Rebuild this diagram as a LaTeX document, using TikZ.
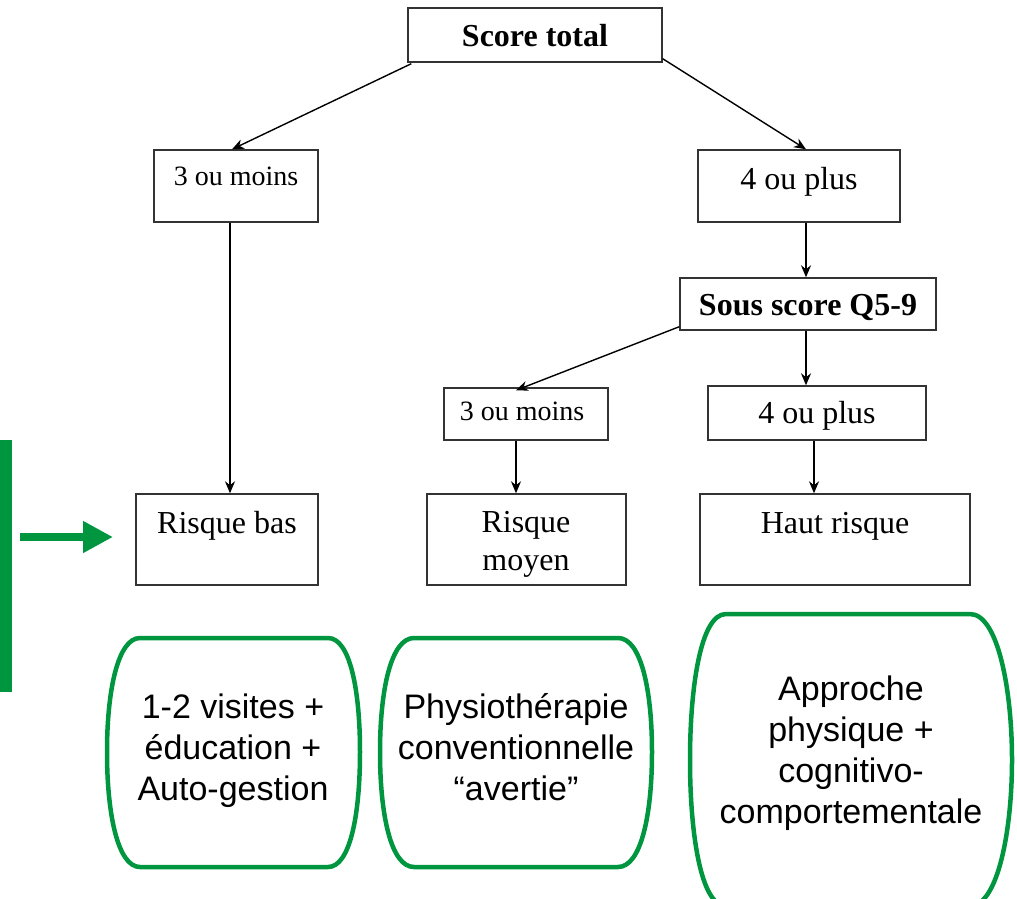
\documentclass[tikz,border=0pt]{standalone}
\usepackage{fontspec}
\setmainfont{Liberation Serif}
\newfontfamily\arialf{Liberation Sans}
\usetikzlibrary{arrows.meta,calc}
\definecolor{grn}{RGB}{0,150,64}
\begin{document}
\begin{tikzpicture}[x=1pt,y=-1pt,
  box/.style={draw=black!80, line width=1.4pt, rectangle, inner sep=0pt},
  txt/.style={inner sep=0pt, anchor=base, font=\fontsize{32}{38}\selectfont},
  txtsm/.style={inner sep=0pt, anchor=base, font=\fontsize{28}{34}\selectfont},
  btxt/.style={txt, font=\fontsize{32}{38}\selectfont\bfseries},
  conn/.style={draw=black, line width=1.4pt, -{Stealth[length=12pt,width=10pt]}},
  green box/.style={draw=grn, line width=4.5pt},
  gtxt/.style={inner sep=0pt, align=center, font=\arialf\fontsize{34}{41}\selectfont}]
\useasboundingbox (0,0) rectangle (1017,899);

% boxes
\node[box, minimum width=254pt, minimum height=54pt] (ST) at (535,35) {};
\node[btxt] (STt) at (535,47) {Score total};
\node[box, minimum width=164pt, minimum height=72pt] (L3) at (236,186) {};
\node[txtsm] (L3t) at (236,185) {3 ou moins};
\node[box, minimum width=202pt, minimum height=72pt] (R4) at (799,186) {};
\node[txt] (R4t) at (799,189) {4 ou plus};
\node[box, minimum width=256pt, minimum height=52pt] (SS) at (808,304) {};
\node[btxt] (SSt) at (808,315) {Sous score Q5-9};
\node[box, minimum width=164pt, minimum height=52pt] (M3) at (526,414) {};
\node[txtsm] (M3t) at (522,420) {3 ou moins};
\node[box, minimum width=218pt, minimum height=54pt] (M4) at (817,413) {};
\node[txt] (M4t) at (817,423) {4 ou plus};
\node[box, minimum width=182pt, minimum height=91pt] (RB) at (227,539.5) {};
\node[txt] (RBt) at (227,533) {Risque bas};
\node[box, minimum width=199pt, minimum height=91pt] (RM) at (526.5,539.5) {};
\node[txt] (RMt1) at (526,532) {Risque};
\node[txt] (RMt2) at (526,570) {moyen};
\node[box, minimum width=270pt, minimum height=91pt] (HR) at (835,539.5) {};
\node[txt] (HRt) at (835,533) {Haut risque};

% connectors
\draw[conn] ([xshift=4pt,yshift=-1pt]ST.south west) -- ([xshift=-4pt]L3.north);
\draw[conn] ([yshift=4pt]ST.south east) -- ([xshift=7pt]R4.north);
\draw[conn] ([xshift=-6pt]L3.south) -- ([xshift=3pt]RB.north);
\draw[conn] ([xshift=7pt]R4.south) -- ([xshift=-2pt]SS.north);
\draw[conn] ([yshift=4pt]SS.south west) -- ([xshift=-10pt,yshift=-3pt]M3.north);
\draw[conn] ([xshift=-2pt]SS.south) -- ([xshift=-11pt]M4.north);
\draw[conn] ([xshift=-10pt]M3.south) -- ([xshift=-10.5pt]RM.north);
\draw[conn] ([xshift=-3pt]M4.south) -- ([xshift=-21pt]HR.north);

% green bar and arrow
\fill[grn] (0,440) rectangle (12,692);
\coordinate (ga) at (20,537);
\coordinate (gb) at (113,537);
\draw[grn, line width=8pt, -{Triangle[length=30pt,width=30pt]}] (ga) -- (gb);

% rounded green boxes
\draw[green box] (140,638) -- (328,638)
  .. controls (350,638) and (360,690) .. (360,752)
  .. controls (360,815) and (350,867) .. (328,867)
  -- (140,867)
  .. controls (118,867) and (107,815) .. (107,752)
  .. controls (107,690) and (118,638) .. (140,638) -- cycle;
\node[gtxt] (T1) at (233,751) {1-2 visites +\\éducation +\\Auto-gestion};

\draw[green box] (414,638) -- (618,638)
  .. controls (641,638) and (652,690) .. (652,752)
  .. controls (652,815) and (641,867) .. (618,867)
  -- (414,867)
  .. controls (391,867) and (380,815) .. (380,752)
  .. controls (380,690) and (391,638) .. (414,638) -- cycle;
\node[gtxt] (T2) at (516,747) {Physiothérapie\\conventionnelle\\“avertie”};

\draw[green box] (726,614) -- (970,614)
  .. controls (998,614) and (1012,690) .. (1012,760)
  .. controls (1012,830) and (998,906) .. (970,906)
  -- (726,906)
  .. controls (700,906) and (690,830) .. (690,760)
  .. controls (690,690) and (700,614) .. (726,614) -- cycle;
\node[gtxt] (T3) at (851,753) {Approche\\physique +\\cognitivo-\\comportementale};
\end{tikzpicture}
\end{document}
